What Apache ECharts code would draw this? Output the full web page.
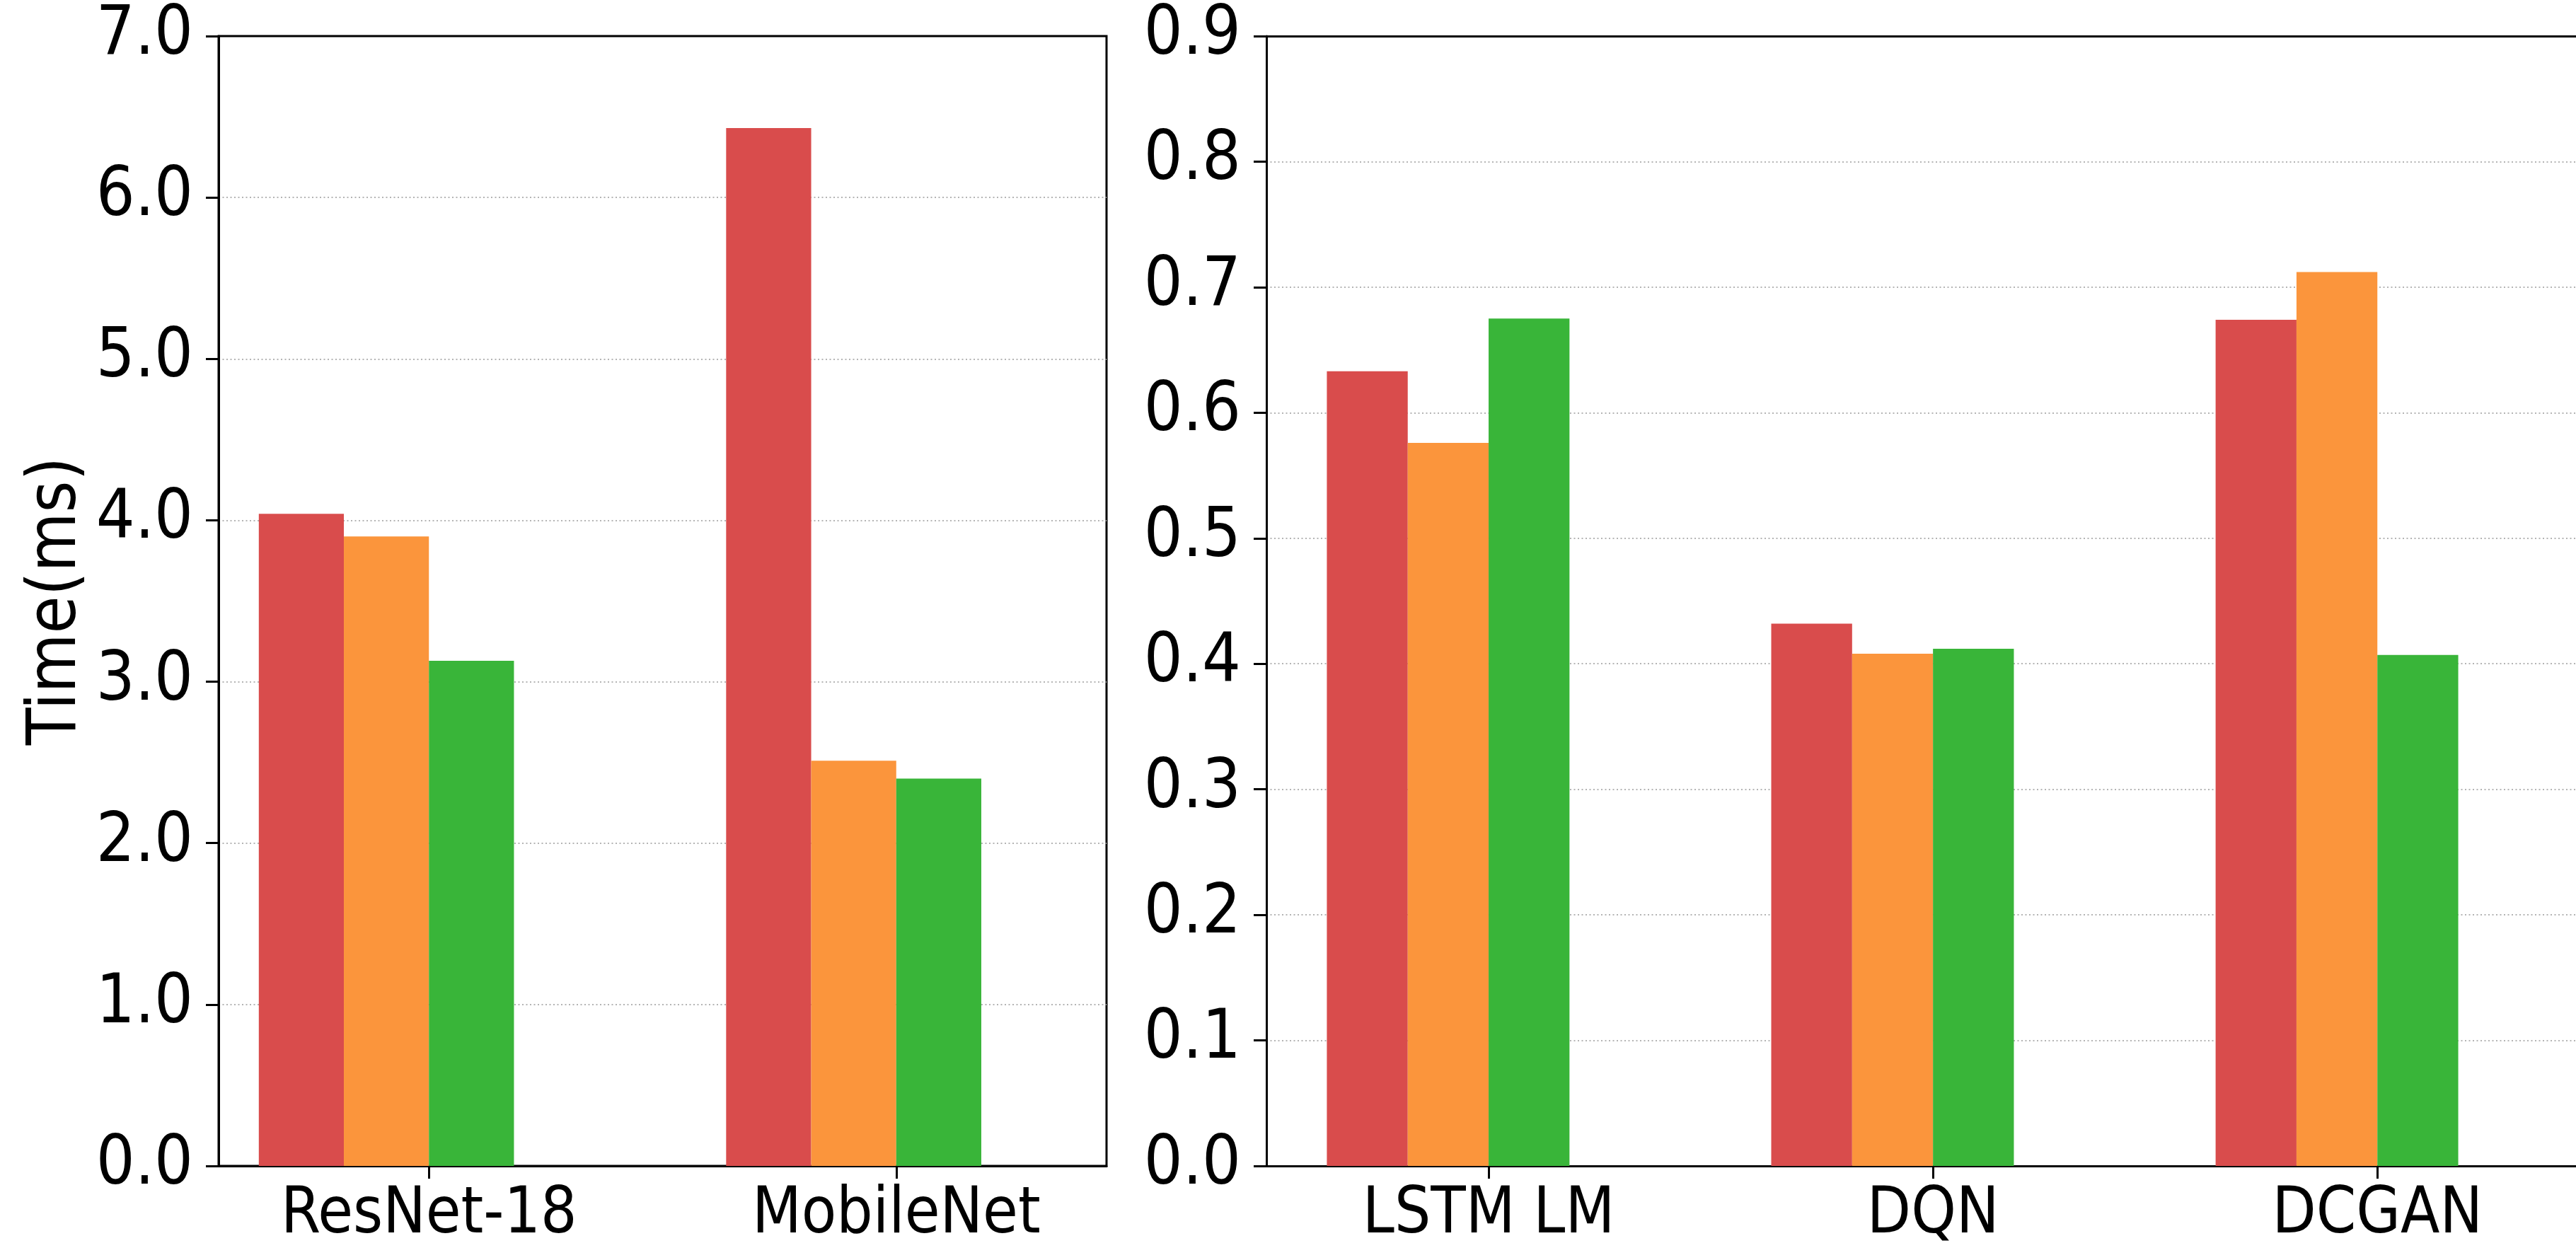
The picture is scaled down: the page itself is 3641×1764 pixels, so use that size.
<!DOCTYPE html>
<html>
<head>
<meta charset="utf-8">
<script src="https://cdn.jsdelivr.net/npm/echarts@6/dist/echarts.min.js"></script>
<style>
  html, body { margin: 0; padding: 0; background: #ffffff; }
  #chart { width: 3641px; height: 1764px; }
</style>
</head>
<body>
<div id="chart"></div>
<script>
// CNN models (left panel, ms)
const cnnModels = ['ResNet-18', 'MobileNet'];
const cnnRed    = [4.04, 6.43];
const cnnOrange = [3.90, 2.51];
const cnnGreen  = [3.13, 2.40];

// Other models (right panel, ms)
const otherModels = ['LSTM LM', 'DQN', 'DCGAN'];
const otherRed    = [0.633, 0.432, 0.674];
const otherOrange = [0.576, 0.408, 0.712];
const otherGreen  = [0.675, 0.412, 0.407];

const leftTicks  = [0, 1, 2, 3, 4, 5, 6, 7];
const rightTicks = [0, 0.1, 0.2, 0.3, 0.4, 0.5, 0.6, 0.7, 0.8, 0.9];

const COLORS = ['#d94c4c', '#fb953c', '#39b539'];
const FONT = "'Liberation Sans Narrow', 'DejaVu Sans Condensed', 'DejaVu Sans', sans-serif";
const FS = 96;
const BAR_FRAC = 0.182;           // bar width as a fraction of the category spacing
const GROUP_SHIFT = BAR_FRAC / 2; // group is offset so the tick sits at the orange/green boundary

// x ranges of the two panels (the right panel runs past the canvas edge)
const LEFT_X  = [-0.45, 1.45];
const RIGHT_X = [-0.5, 2.447];

// bar groups are centred half a bar to the left of each category tick
const toPairs = arr => arr.map((v, i) => [i - GROUP_SHIFT, v]);

const spine = { show: true, onZero: false, lineStyle: { color: '#000', width: 3 } };

function xAxisFor(gridIndex, names, range) {
  const ticks = names.map((_, i) => i);
  return {
    type: 'value', gridIndex, min: range[0], max: range[1],
    axisLine: spine,
    axisTick: { show: true, customValues: ticks, length: 18, inside: false,
                lineStyle: { color: '#000', width: 3 } },
    axisLabel: { show: true, customValues: ticks, margin: 26,
                 formatter: v => names[Math.round(v)],
                 color: '#000', fontSize: 90, fontFamily: FONT },
    splitLine: { show: false }
  };
}

// plain top spine for the right panel
function topSpine(gridIndex, range) {
  return {
    type: 'value', gridIndex, position: 'top', min: range[0], max: range[1],
    axisLine: spine, axisTick: { show: false }, axisLabel: { show: false },
    splitLine: { show: false }
  };
}

function yAxisFor(gridIndex, max, interval, extra) {
  return Object.assign({
    type: 'value', gridIndex, min: 0, max, interval,
    axisLine: spine,
    axisTick: { show: true, length: 18, inside: false, lineStyle: { color: '#000', width: 3 } },
    axisLabel: { margin: 36, color: '#000', fontSize: FS, fontFamily: FONT,
                 formatter: v => v.toFixed(1) },
    splitLine: { show: true, showMinLine: false, showMaxLine: false,
                 lineStyle: { color: '#b4b4b4', width: 2, type: [2, 3.5] } }
  }, extra || {});
}

function barSeries(gridIdx, values, colorIdx) {
  return {
    type: 'bar', xAxisIndex: gridIdx, yAxisIndex: gridIdx,
    data: toPairs(values), barWidth: (BAR_FRAC * 100) + '%', barGap: '0%',
    itemStyle: { color: COLORS[colorIdx] }, animation: false
  };
}

const chart = echarts.init(document.getElementById('chart'), null, { renderer: 'canvas' });
chart.setOption({
  backgroundColor: '#ffffff',
  animation: false,
  grid: [
    { left: 309, top: 51, width: 1255, height: 1598, show: true, borderColor: '#000', borderWidth: 3, backgroundColor: 'transparent' },
    { left: 1790, top: 51, width: 1851, height: 1598, show: false }
  ],
  xAxis: [
    xAxisFor(0, cnnModels, LEFT_X),
    xAxisFor(1, otherModels, RIGHT_X),
    topSpine(1, RIGHT_X)
  ],
  yAxis: [
    yAxisFor(0, leftTicks[leftTicks.length - 1], 1, {
      name: 'Time(ms)', nameLocation: 'middle', nameGap: 180,
      nameTextStyle: { color: '#000', fontSize: FS, fontFamily: FONT }
    }),
    yAxisFor(1, rightTicks[rightTicks.length - 1], 0.1)
  ],
  series: [
    barSeries(0, cnnRed, 0), barSeries(0, cnnOrange, 1), barSeries(0, cnnGreen, 2),
    barSeries(1, otherRed, 0), barSeries(1, otherOrange, 1), barSeries(1, otherGreen, 2)
  ]
});
</script>
</body>
</html>
